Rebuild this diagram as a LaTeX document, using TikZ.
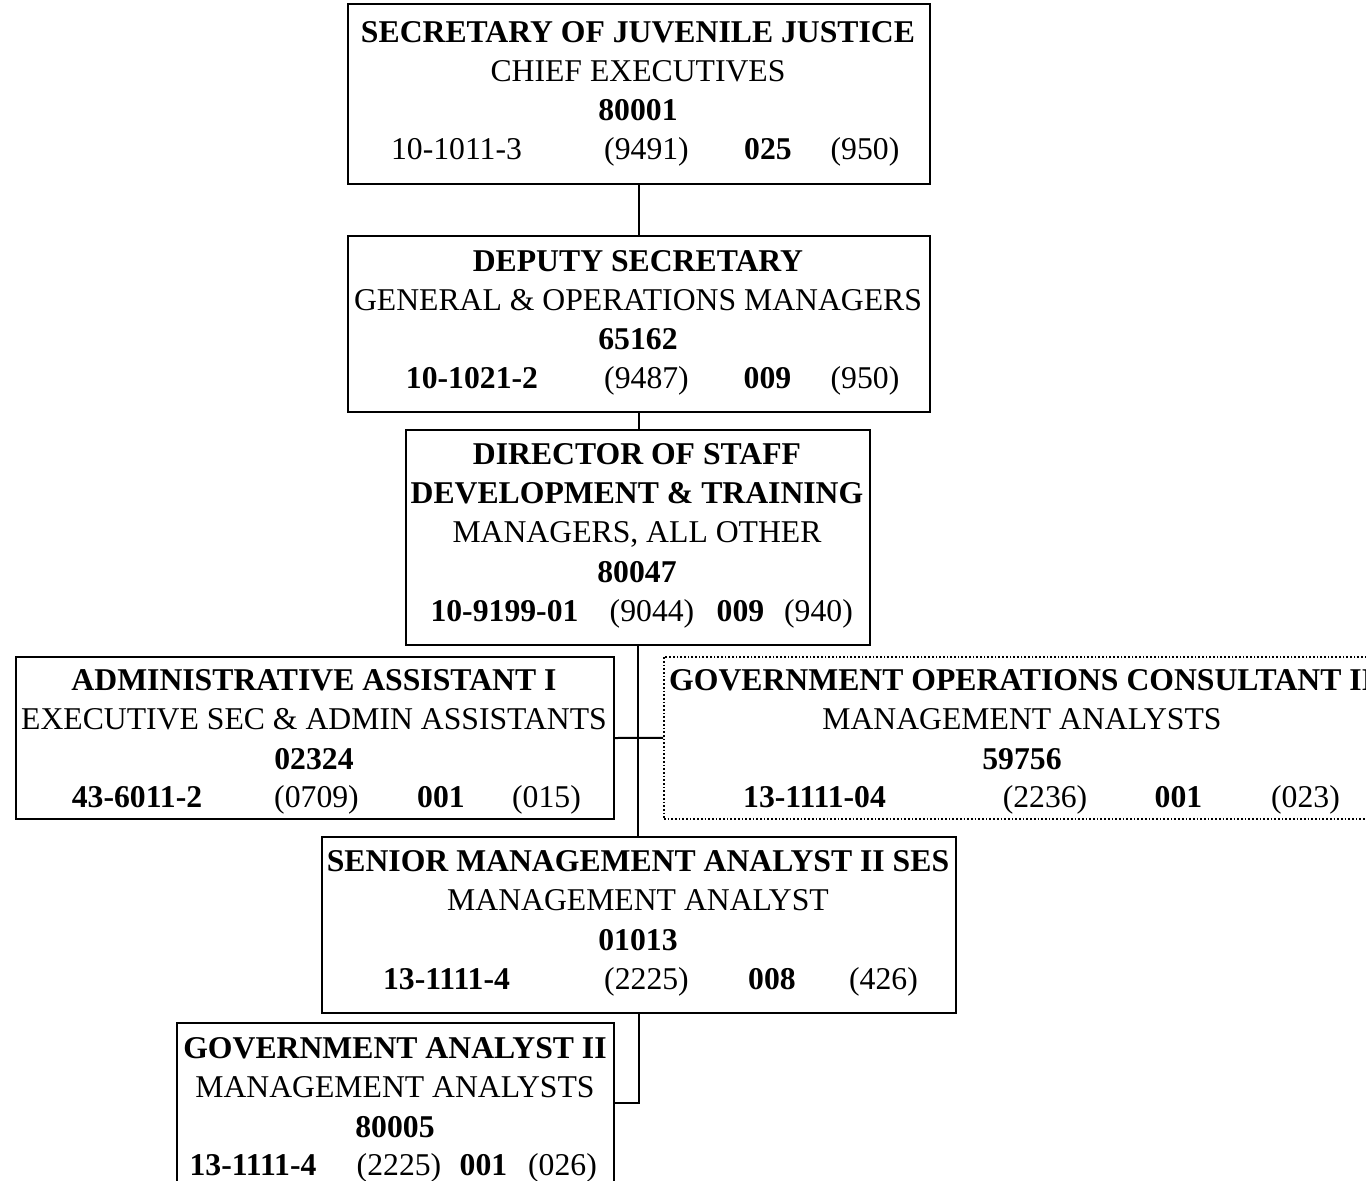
\documentclass[tikz,border=0pt]{standalone}
\usepackage{fontspec}
\setmainfont{Liberation Serif}
\begin{document}
\begin{tikzpicture}[x=1pt,y=-1pt,
  box/.style={draw, line width=2pt, anchor=north west, inner sep=0pt},
  dotbox/.style={draw, line width=1.7pt, dotted, anchor=north west, inner sep=0pt},
  txt/.style={inner sep=0pt, anchor=base, font=\fontsize{31.7}{39}\selectfont},
  btxt/.style={txt, font=\fontsize{31.7}{39}\selectfont\bfseries},
  link/.style={line width=2pt}]
\useasboundingbox (0,0) rectangle (1366,1181);
\fill[white] (0,0) rectangle (1366,1181);
\begin{scope}
\clip (0,0) rectangle (1366,1181);

% boxes
\node[box, minimum width=582pt, minimum height=180pt] (sec) at (347,3) {};
\node[box, minimum width=582pt, minimum height=176pt] (dep) at (347,235) {};
\node[box, minimum width=464pt, minimum height=215pt] (dir) at (405,429) {};
\node[box, minimum width=598pt, minimum height=162pt] (adm) at (15,656) {};
\node[dotbox, minimum width=718pt, minimum height=162pt] (goc) at (663,656) {};
\node[box, minimum width=634pt, minimum height=176pt] (sen) at (321,836) {};
\node[box, minimum width=437pt, minimum height=160pt] (ana) at (176,1022) {};

% connectors
\draw[link] (sec.south) -- (dep.north);
\draw[link] (dep.south) -- (dep.south |- dir.north);
\draw[link] (dir.south) -- (dir.south |- sen.north);
\draw[link] (adm.east) -- (goc.west);
\draw[link] (sen.south) |- (ana.east);

% secretary
\node[btxt] (sec1) at (638,42) {SECRETARY OF JUVENILE JUSTICE};
\node[txt]  (sec2) at (638,81) {CHIEF EXECUTIVES};
\node[btxt] (sec3) at (638,120) {80001};
\node[txt]  (sec4a) at (456.5,159) {10-1011-3};
\node[txt]  (sec4b) at (646.5,159) {(9491)};
\node[btxt] (sec4c) at (768,159) {025};
\node[txt]  (sec4d) at (865,159) {(950)};

% deputy
\node[btxt] (dep1) at (638,271) {DEPUTY SECRETARY};
\node[txt]  (dep2) at (638,310) {GENERAL \& OPERATIONS MANAGERS};
\node[btxt] (dep3) at (638,349) {65162};
\node[btxt] (dep4a) at (472,388) {10-1021-2};
\node[txt]  (dep4b) at (646.5,388) {(9487)};
\node[btxt] (dep4c) at (767.5,388) {009};
\node[txt]  (dep4d) at (865,388) {(950)};

% director
\node[btxt] (dir1) at (637,464) {DIRECTOR OF STAFF};
\node[btxt] (dir2) at (637,503) {DEVELOPMENT \& TRAINING};
\node[txt]  (dir3) at (637,542) {MANAGERS, ALL OTHER};
\node[btxt] (dir4) at (637,582) {80047};
\node[btxt] (dir5a) at (504.5,621) {10-9199-01};
\node[txt]  (dir5b) at (652,621) {(9044)};
\node[btxt] (dir5c) at (740.5,621) {009};
\node[txt]  (dir5d) at (818.5,621) {(940)};

% administrative assistant
\node[btxt] (adm1) at (314,690) {ADMINISTRATIVE ASSISTANT I};
\node[txt]  (adm2) at (314,729) {EXECUTIVE SEC \& ADMIN ASSISTANTS};
\node[btxt] (adm3) at (314,769) {02324};
\node[btxt] (adm4a) at (137,807) {43-6011-2};
\node[txt]  (adm4b) at (316.5,807) {(0709)};
\node[btxt] (adm4c) at (441,807) {001};
\node[txt]  (adm4d) at (546.5,807) {(015)};

% operations consultant
\node[btxt, anchor=base west] (goc1) at (669,690) {GOVERNMENT OPERATIONS CONSULTANT II};
\node[txt]  (goc2) at (1022,729) {MANAGEMENT ANALYSTS};
\node[btxt] (goc3) at (1022,769) {59756};
\node[btxt] (goc4a) at (814.5,807) {13-1111-04};
\node[txt]  (goc4b) at (1045,807) {(2236)};
\node[btxt] (goc4c) at (1178.5,807) {001};
\node[txt]  (goc4d) at (1305.5,807) {(023)};

% senior management analyst
\node[btxt] (sen1) at (638,871) {SENIOR MANAGEMENT ANALYST II SES};
\node[txt]  (sen2) at (638,910) {MANAGEMENT ANALYST};
\node[btxt] (sen3) at (638,950) {01013};
\node[btxt] (sen4a) at (446.5,989) {13-1111-4};
\node[txt]  (sen4b) at (646.5,989) {(2225)};
\node[btxt] (sen4c) at (772,989) {008};
\node[txt]  (sen4d) at (883.5,989) {(426)};

% government analyst
\node[btxt] (ana1) at (395,1058) {GOVERNMENT ANALYST II};
\node[txt]  (ana2) at (395,1097) {MANAGEMENT ANALYSTS};
\node[btxt] (ana3) at (395,1137) {80005};
\node[btxt] (ana4a) at (253,1175) {13-1111-4};
\node[txt]  (ana4b) at (399,1175) {(2225)};
\node[btxt] (ana4c) at (483.5,1175) {001};
\node[txt]  (ana4d) at (562.5,1175) {(026)};
\end{scope}
\end{tikzpicture}
\end{document}
